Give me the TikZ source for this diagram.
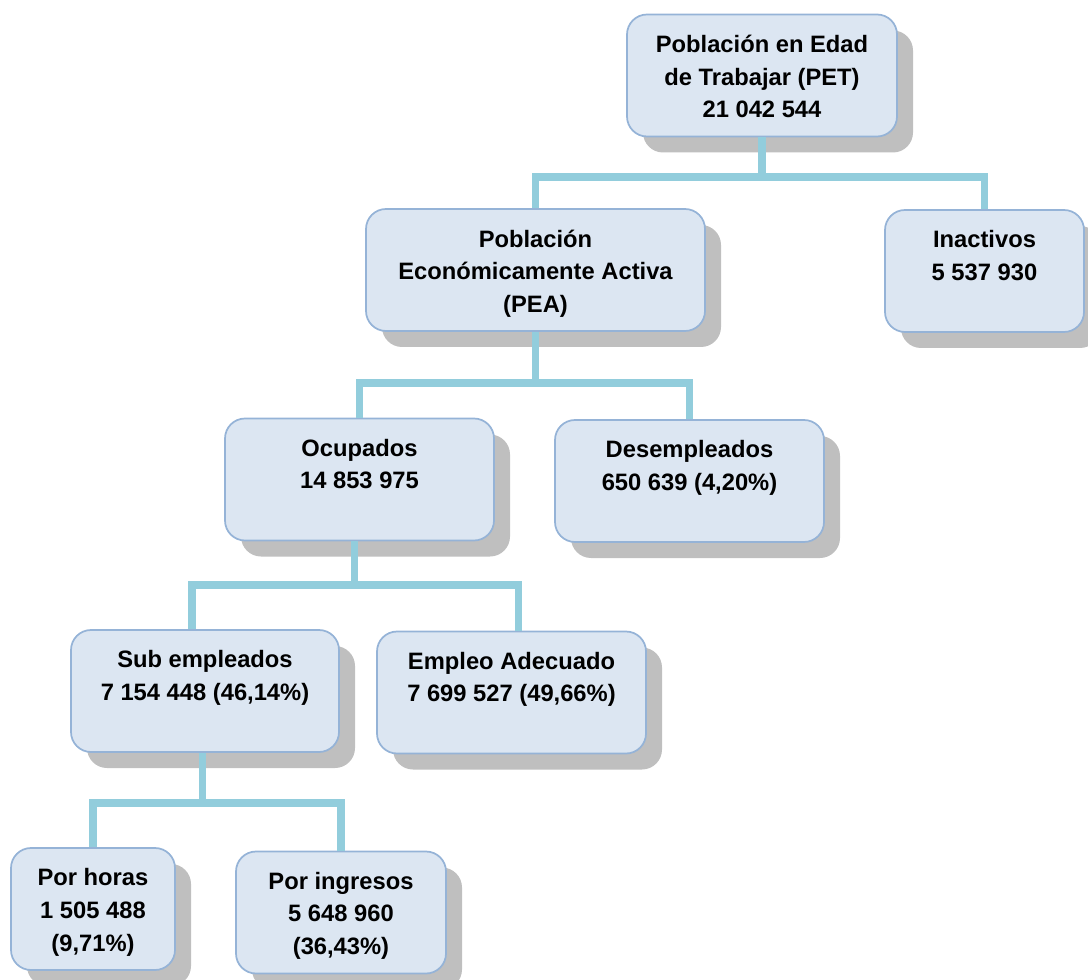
\documentclass[tikz,border=0pt]{standalone}
\usepackage{fontspec}
\setmainfont{Liberation Sans}
\usepackage{tikz}
\usetikzlibrary{shadows}
\definecolor{boxfill}{HTML}{DCE6F2}
\definecolor{boxline}{HTML}{95B3D7}
\definecolor{linkcol}{HTML}{92CDDC}
\definecolor{shadowcol}{HTML}{BFBFBF}
\tikzset{
    box/.style={shape=rectangle, rounded corners=15pt, draw=boxline, line width=1.3pt,
        fill=boxfill, minimum height=91.5pt, inner sep=0pt,
        drop shadow={shadow xshift=12pt, shadow yshift=-12pt, fill=shadowcol, opacity=1}},
    boxtext/.style={anchor=north, align=center, inner sep=0pt,
        font=\fontsize{17.8}{24.4}\selectfont\bfseries},
    link/.style={draw=linkcol, line width=5.3pt}}

\begin{document}
\begin{tikzpicture}[x=0.75pt, y=-0.75pt]
                    \useasboundingbox (0,0) rectangle (1088,980);

                    \node[box, minimum width=202.5pt] (PET) at (762,75.5) {};
                    \node[box, minimum width=254.25pt] (PEA) at (535.5,270) {};
                    \node[box, minimum width=149.25pt] (INA) at (984.5,271) {};
                    \node[box, minimum width=201.75pt] (OCU) at (359.5,479.5) {};
                    \node[box, minimum width=201.75pt] (DES) at (689.5,481) {};
                    \node[box, minimum width=201pt] (SUB) at (205,691) {};
                    \node[box, minimum width=201.75pt] (ADE) at (511.5,692.5) {};
                    \node[box, minimum width=123pt] (HOR) at (93,909) {};
                    \node[box, minimum width=157.5pt] (ING) at (341,912.5) {};

                    \node[boxtext] (PETt) at ([yshift=-16pt]PET.north) {Población en Edad\\de Trabajar (PET)\\21 042 544};
                    \node[boxtext] (PEAt) at ([yshift=-16pt]PEA.north) {Población\\Económicamente Activa\\(PEA)};
                    \node[boxtext] (INAt) at ([yshift=-16pt]INA.north) {Inactivos\\5 537 930};
                    \node[boxtext] (OCUt) at ([yshift=-16pt]OCU.north) {Ocupados\\14 853 975};
                    \node[boxtext] (DESt) at ([yshift=-16pt]DES.north) {Desempleados\\650 639 (4,20\%)};
                    \node[boxtext] (SUBt) at ([yshift=-16pt]SUB.north) {Sub empleados\\7 154 448 (46,14\%)};
                    \node[boxtext] (ADEt) at ([yshift=-16pt]ADE.north) {Empleo Adecuado\\7 699 527 (49,66\%)};
                    \node[boxtext] (HORt) at ([yshift=-16pt]HOR.north) {Por horas\\1 505 488\\(9,71\%)};
                    \node[boxtext] (INGt) at ([yshift=-16pt]ING.north) {Por ingresos\\5 648 960\\(36,43\%)};

                    \coordinate (J1) at (762,177);
                    \coordinate (J2) at (536,383);
                    \coordinate (J3) at (355,585);
                    \coordinate (J4) at (202,803);

                    \draw[link] (PET.south) -- (PET.south |- J1);
                    \draw[link] (PEA.north) |- (INA.north |- J1) -- (INA.north);
                    \draw[link] (PEA.south) -- (PEA.south |- J2);
                    \draw[link] (OCU.north) |- (DES.north |- J2) -- (DES.north);
                    \draw[link] ([xshift=-4pt]OCU.south) -- ([xshift=-4pt]OCU.south |- J3);
                    \draw[link] ([xshift=-9.75pt]SUB.north) |- ([xshift=5pt]ADE.north |- J3) -- ([xshift=5pt]ADE.north);
                    \draw[link] ([xshift=-2pt]SUB.south) -- ([xshift=-2pt]SUB.south |- J4);
                    \draw[link] (HOR.north) |- (ING.north |- J4) -- (ING.north);

                \end{tikzpicture}
\end{document}
